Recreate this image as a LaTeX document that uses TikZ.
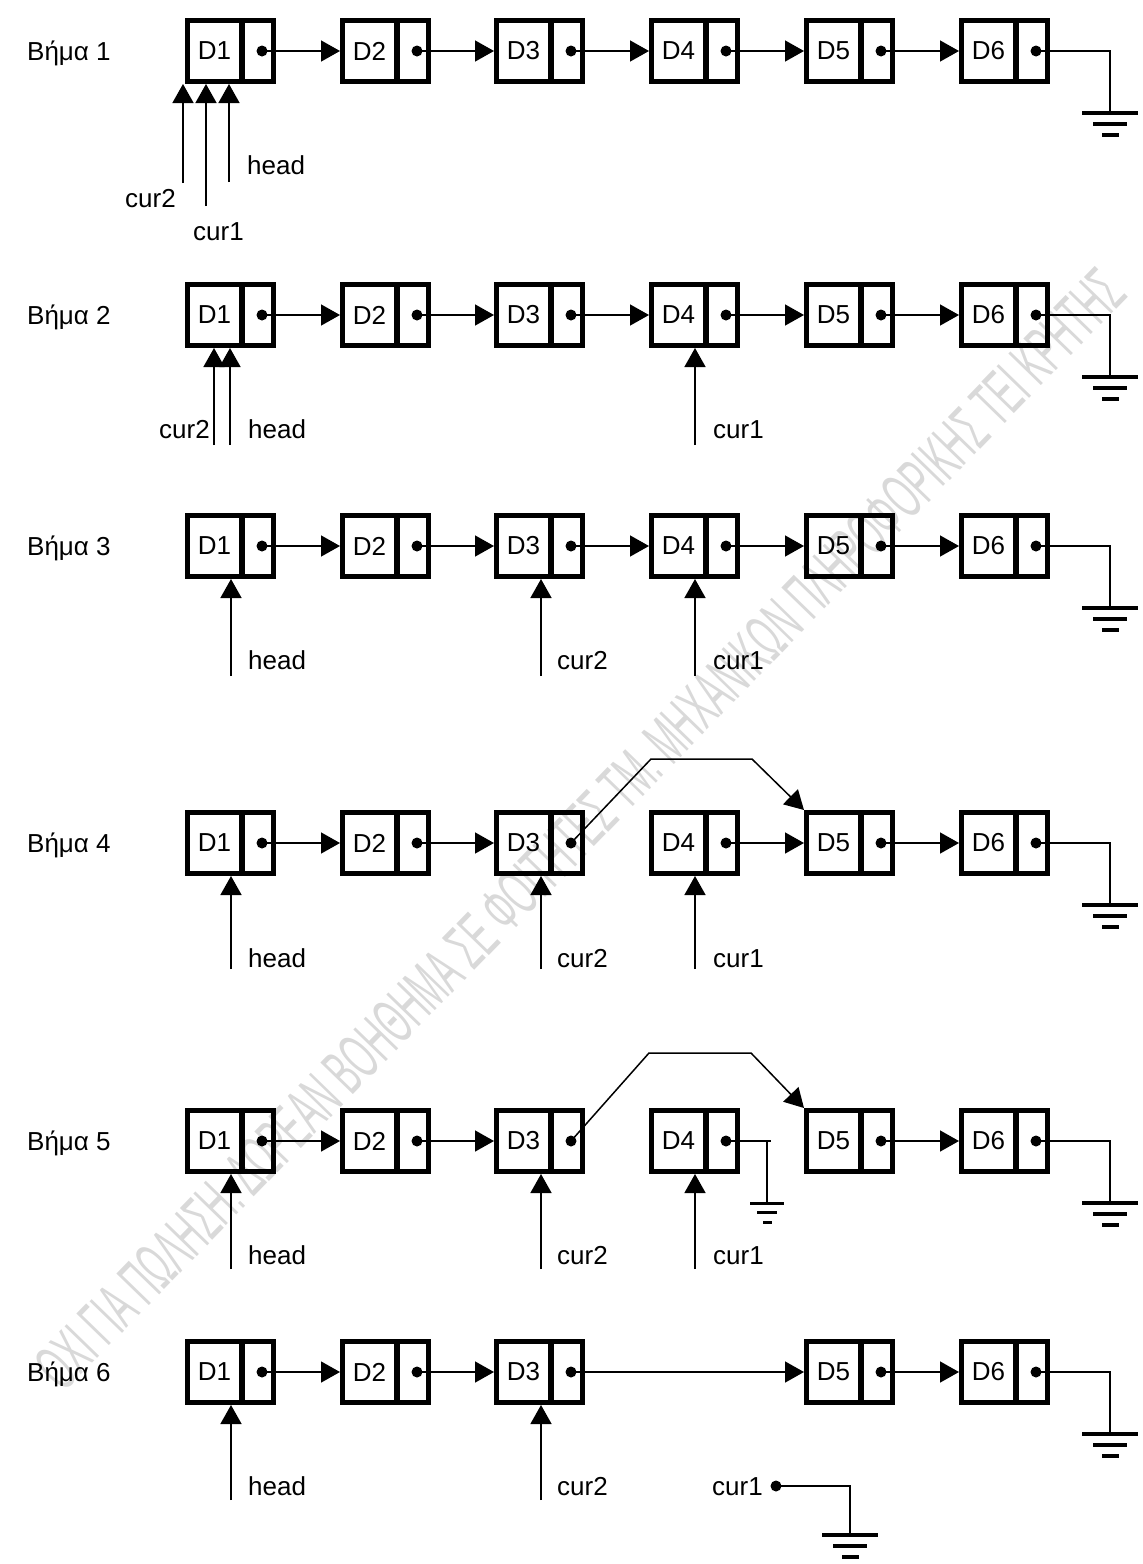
\documentclass[tikz,border=0pt]{standalone}
\usepackage{fontspec}
\setmainfont{Liberation Sans}
\usetikzlibrary{arrows.meta,calc}
\newcommand\lcell[4]{%
  \node[boxst] (#1) at (#2+45.5,#3) {};
  \draw[line width=6pt] ([xshift=57pt]#1.north west) -- ([xshift=57pt]#1.south west);
  \node[txt] (#1t) at (#2+29.5,#3) {#4};
  \coordinate (#1p) at (#2+77,#3);
  \fill (#1p) circle (5.5);
}
\newcommand\gndbig[1]{%
  \fill ([shift={(-28,-2)}]#1) rectangle ++(56,4);
  \fill ([shift={(-17,9)}]#1) rectangle ++(34,4);
  \fill ([shift={(-8.5,20)}]#1) rectangle ++(17,4);
}
\newcommand\gndsmall[1]{%
  \fill ([shift={(-17,-1.5)}]#1) rectangle ++(34,3);
  \fill ([shift={(-10,8)}]#1) rectangle ++(20,3);
  \fill ([shift={(-4.5,17.5)}]#1) rectangle ++(9,3);
}
\begin{document}
\begin{tikzpicture}[x=1pt,y=-1pt,
  boxst/.style={draw, line width=5pt, minimum width=86pt, minimum height=61pt, inner sep=0pt},
  txt/.style={inner sep=0pt, font=\fontsize{26}{30}\selectfont},
  lab/.style={inner sep=0pt, anchor=base west, font=\fontsize{26}{30}\selectfont},
  link/.style={line width=1.5pt, -{Triangle[length=19pt,width=21pt]}},
  wire/.style={line width=1.5pt},
]
\useasboundingbox (0,0) rectangle (1143,1564);

% watermark
\node[rotate=45.85, text=gray!30, inner sep=0pt] (wm) at (580,829)
  {\resizebox{1530pt}{46pt}{ΟΧΙ ΓΙΑ ΠΩΛΗΣΗ. ΔΩΡΕΑΝ ΒΟΗΘΗΜΑ ΣΕ ΦΟΙΤΗΤΕΣ ΤΜ. ΜΗΧΑΝΙΚΩΝ ΠΛΗΡΟΦΟΡΙΚΗΣ ΤΕΙ ΚΡΗΤΗΣ}};

% boxes
\foreach \r/\c in {1/51,2/315,3/546,4/843,5/1141}{
  \node[lab] (s\r) at (27,\c+9) {Βήμα \r};
  \foreach \i/\x in {1/185,2/340,3/494,4/649,5/804,6/959}{
    \lcell{r\r-\i}{\x}{\c}{D\i}
  }
  \coordinate (g\r) at (1110,\c+62);
  \draw[wire] (r\r-6p) -| (g\r);
  \gndbig{g\r}
}
\node[lab] (s6) at (27,1381) {Βήμα 6};
\foreach \i/\x in {1/185,2/340,3/494,5/804,6/959}{
  \lcell{r6-\i}{\x}{1372}{D\i}
}
\coordinate (g6x) at (1110,1434);
\draw[wire] (r6-6p) -| (g6x);
\gndbig{g6x}

% next links
\foreach \r in {1,2,3}{
  \foreach \i/\j in {1/2,2/3,3/4,4/5,5/6}{
    \draw[link] (r\r-\i p) -- (r\r-\j.west);
  }
}
\foreach \i/\j in {1/2,2/3,4/5,5/6}{ \draw[link] (r4-\i p) -- (r4-\j.west); }
\foreach \i/\j in {1/2,2/3,5/6}{ \draw[link] (r5-\i p) -- (r5-\j.west); }
\foreach \i/\j in {1/2,2/3,3/5,5/6}{ \draw[link] (r6-\i p) -- (r6-\j.west); }

% bypass links
\coordinate (b4a) at (651,759);
\coordinate (b4b) at (752,759);
\draw[link] (r4-3p) -- (b4a) -- (b4b) -- (r4-5.north west);
\coordinate (b5a) at (649,1053);
\coordinate (b5b) at (751,1053);
\draw[link] (r5-3p) -- (b5a) -- (b5b) -- (r5-5.north west);

% D4 in step 5 grounded
\coordinate (e5) at (771,1141);
\coordinate (g5s) at (767,1203);
\draw[wire] (r5-4p) -- (e5);
\draw[wire] (g5s |- e5) -- (g5s);
\gndsmall{g5s}

% step 1 pointers
\coordinate (p1a) at (183,183);
\coordinate (p1b) at (206,206);
\coordinate (p1c) at (229,182);
\draw[link] (p1a) -- (p1a |- r1-1.south);
\draw[link] (p1b) -- (p1b |- r1-1.south);
\draw[link] (p1c) -- (p1c |- r1-1.south);
\node[lab] (l1a) at (125,207) {cur2};
\node[lab] (l1b) at (193,240) {cur1};
\node[lab] (l1c) at (247,174) {head};

% step 2 pointers
\coordinate (p2a) at (214,445);
\coordinate (p2b) at (230,445);
\coordinate (p2c) at (695,445);
\draw[link] (p2a) -- (p2a |- r2-1.south);
\draw[link] (p2b) -- (p2b |- r2-1.south);
\draw[link] (p2c) -- (p2c |- r2-4.south);
\node[lab] (l2a) at (159,438) {cur2};
\node[lab] (l2b) at (248,438) {head};
\node[lab] (l2c) at (713,438) {cur1};

% step 3 pointers
\coordinate (p3a) at (231,676);
\coordinate (p3b) at (541,676);
\coordinate (p3c) at (695,676);
\draw[link] (p3a) -- (p3a |- r3-1.south);
\draw[link] (p3b) -- (p3b |- r3-3.south);
\draw[link] (p3c) -- (p3c |- r3-4.south);
\node[lab] (l3a) at (248,669) {head};
\node[lab] (l3b) at (557,669) {cur2};
\node[lab] (l3c) at (713,669) {cur1};

% step 4 pointers
\coordinate (p4a) at (231,969);
\coordinate (p4b) at (541,969);
\coordinate (p4c) at (695,969);
\draw[link] (p4a) -- (p4a |- r4-1.south);
\draw[link] (p4b) -- (p4b |- r4-3.south);
\draw[link] (p4c) -- (p4c |- r4-4.south);
\node[lab] (l4a) at (248,967) {head};
\node[lab] (l4b) at (557,967) {cur2};
\node[lab] (l4c) at (713,967) {cur1};

% step 5 pointers
\coordinate (p5a) at (231,1269);
\coordinate (p5b) at (541,1269);
\coordinate (p5c) at (695,1269);
\draw[link] (p5a) -- (p5a |- r5-1.south);
\draw[link] (p5b) -- (p5b |- r5-3.south);
\draw[link] (p5c) -- (p5c |- r5-4.south);
\node[lab] (l5a) at (248,1264) {head};
\node[lab] (l5b) at (557,1264) {cur2};
\node[lab] (l5c) at (713,1264) {cur1};

% step 6 pointers
\coordinate (p6a) at (231,1500);
\coordinate (p6b) at (541,1500);
\draw[link] (p6a) -- (p6a |- r6-1.south);
\draw[link] (p6b) -- (p6b |- r6-3.south);
\node[lab] (l6a) at (248,1495) {head};
\node[lab] (l6b) at (557,1495) {cur2};
\node[lab] (l6c) at (712,1495) {cur1};
\coordinate (c6) at (776,1486);
\fill (c6) circle (5.5);
\coordinate (g6s) at (850,1535);
\draw[wire] (c6) -| (g6s);
\gndbig{g6s}
\end{tikzpicture}
\end{document}
